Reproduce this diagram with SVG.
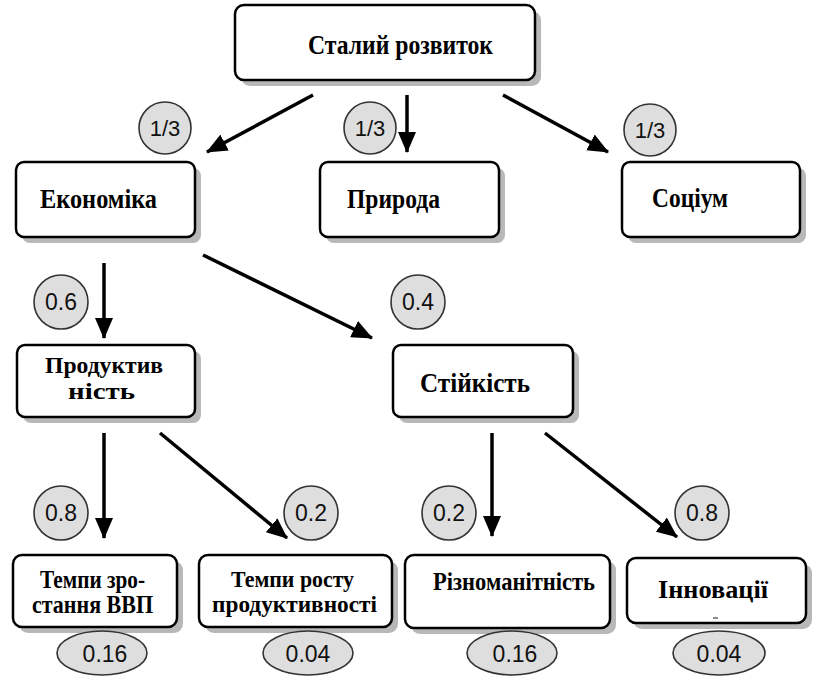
<svg xmlns="http://www.w3.org/2000/svg" width="813" height="685" viewBox="0 0 813 685">
<style>
.box{fill:#fff;stroke:#000;stroke-width:2.5}
.sh{fill:#b8b8b8;stroke:none}
.t{font-family:"Liberation Serif","DejaVu Serif","Times New Roman",serif;font-weight:bold;fill:#000}
.w{fill:#dedede;stroke:#333;stroke-width:1.6}
.n{font-family:"Liberation Sans","DejaVu Sans",Arial,sans-serif;fill:#111;text-anchor:middle}
.c{stroke:#000;stroke-width:3.5;fill:none;marker-end:url(#ah)}
</style>
<defs>
<marker id="ah" markerUnits="userSpaceOnUse" markerWidth="22" markerHeight="18" refX="20" refY="9" orient="auto"><path d="M0,0 L21,9 L0,18 z" fill="#000"/></marker>
</defs>
<rect width="813" height="685" fill="#fff"/>
<g id="connectors">
<line class="c" x1="313" y1="95" x2="207" y2="152"/>
<line class="c" x1="407" y1="95" x2="407" y2="152"/>
<line class="c" x1="503" y1="95" x2="608" y2="152"/>
<line class="c" x1="104" y1="263" x2="104" y2="338"/>
<line class="c" x1="203" y1="255" x2="372" y2="338"/>
<line class="c" x1="104" y1="433" x2="104" y2="538"/>
<line class="c" x1="160" y1="433" x2="287" y2="538"/>
<line class="c" x1="492" y1="433" x2="492" y2="536"/>
<line class="c" x1="545" y1="433" x2="677" y2="537"/>
</g>
<g id="n-root">
<rect class="sh" x="241" y="11" width="300" height="75" rx="9"/>
<rect class="box" x="235" y="5" width="300" height="75" rx="9"/>
<text class="t" x="308" y="54" font-size="27" textLength="185" lengthAdjust="spacingAndGlyphs">Сталий розвиток</text>
</g>
<g id="n-econ">
<rect class="sh" x="22" y="168" width="179" height="75" rx="8"/>
<rect class="box" x="16" y="162" width="179" height="75" rx="8"/>
<text class="t" x="40" y="208" font-size="27" textLength="117" lengthAdjust="spacingAndGlyphs">Економіка</text>
</g>
<g id="n-nature">
<rect class="sh" x="326" y="168" width="179" height="75" rx="8"/>
<rect class="box" x="320" y="162" width="179" height="75" rx="8"/>
<text class="t" x="347" y="208" font-size="27" textLength="93" lengthAdjust="spacingAndGlyphs">Природа</text>
</g>
<g id="n-soc">
<rect class="sh" x="628" y="168" width="178" height="75" rx="8"/>
<rect class="box" x="622" y="162" width="178" height="75" rx="8"/>
<text class="t" x="652" y="207" font-size="27" textLength="76" lengthAdjust="spacingAndGlyphs">Соціум</text>
</g>
<g id="n-prod">
<rect class="sh" x="23" y="351" width="178" height="72" rx="8"/>
<rect class="box" x="17" y="345" width="178" height="72" rx="8"/>
<text class="t" font-size="24"><tspan x="45" y="373" textLength="118" lengthAdjust="spacingAndGlyphs">Продуктив</tspan><tspan x="68" y="399" textLength="67" lengthAdjust="spacingAndGlyphs">ність</tspan></text>
</g>
<g id="n-stab">
<rect class="sh" x="399" y="351" width="180" height="72" rx="8"/>
<rect class="box" x="393" y="345" width="180" height="72" rx="8"/>
<text class="t" x="420" y="392" font-size="27" textLength="110" lengthAdjust="spacingAndGlyphs">Стійкість</text>
</g>
<g id="n-gdp">
<rect class="sh" x="19" y="561" width="164" height="72" rx="9"/>
<rect class="box" x="13" y="555" width="164" height="72" rx="9"/>
<text class="t" font-size="25"><tspan x="40" y="588" textLength="105" lengthAdjust="spacingAndGlyphs">Темпи зро-</tspan><tspan x="32" y="613" textLength="121" lengthAdjust="spacingAndGlyphs">стання ВВП</tspan></text>
</g>
<g id="n-prodgrowth">
<rect class="sh" x="205" y="561" width="193" height="72" rx="9"/>
<rect class="box" x="199" y="555" width="193" height="72" rx="9"/>
<text class="t" font-size="23"><tspan x="231" y="587" textLength="123" lengthAdjust="spacingAndGlyphs">Темпи росту</tspan><tspan x="212" y="612" textLength="165" lengthAdjust="spacingAndGlyphs">продуктивності</tspan></text>
</g>
<g id="n-div">
<rect class="sh" x="411" y="561" width="205" height="73" rx="9"/>
<rect class="box" x="405" y="555" width="205" height="73" rx="9"/>
<text class="t" x="433" y="590" font-size="26" textLength="162" lengthAdjust="spacingAndGlyphs">Різноманітність</text>
</g>
<g id="n-innov">
<rect class="sh" x="633" y="564" width="179" height="65" rx="9"/>
<rect class="box" x="627" y="558" width="179" height="65" rx="9"/>
<text class="t" x="658" y="598" font-size="25" textLength="110" lengthAdjust="spacingAndGlyphs">Інновації</text>
<line x1="713" y1="618" x2="718" y2="618" stroke="#666" stroke-width="1.5"/>
</g>
<g id="weights">
<circle class="w" cx="165" cy="128" r="26"/><text class="n" x="165" y="136" font-size="22">1/3</text>
<circle class="w" cx="370" cy="128" r="26"/><text class="n" x="370" y="136" font-size="22">1/3</text>
<circle class="w" cx="650" cy="130" r="26"/><text class="n" x="650" y="138" font-size="22">1/3</text>
<circle class="w" cx="61" cy="302" r="27"/><text class="n" x="61" y="310" font-size="23">0.6</text>
<circle class="w" cx="418" cy="302" r="27"/><text class="n" x="418" y="310" font-size="23">0.4</text>
<circle class="w" cx="61" cy="513" r="27"/><text class="n" x="61" y="521" font-size="23">0.8</text>
<circle class="w" cx="311" cy="513" r="27"/><text class="n" x="311" y="521" font-size="23">0.2</text>
<circle class="w" cx="449" cy="513" r="27"/><text class="n" x="449" y="521" font-size="23">0.2</text>
<circle class="w" cx="702" cy="513" r="27"/><text class="n" x="702" y="521" font-size="23">0.8</text>
<ellipse class="w" cx="102" cy="653" rx="45" ry="22"/><text class="n" x="105" y="662" font-size="23">0.16</text>
<ellipse class="w" cx="308" cy="653" rx="45" ry="22"/><text class="n" x="308" y="662" font-size="23">0.04</text>
<ellipse class="w" cx="512" cy="653" rx="45" ry="22"/><text class="n" x="515" y="662" font-size="23">0.16</text>
<ellipse class="w" cx="719" cy="653" rx="46" ry="22"/><text class="n" x="719" y="662" font-size="23">0.04</text>
</g>
</svg>
